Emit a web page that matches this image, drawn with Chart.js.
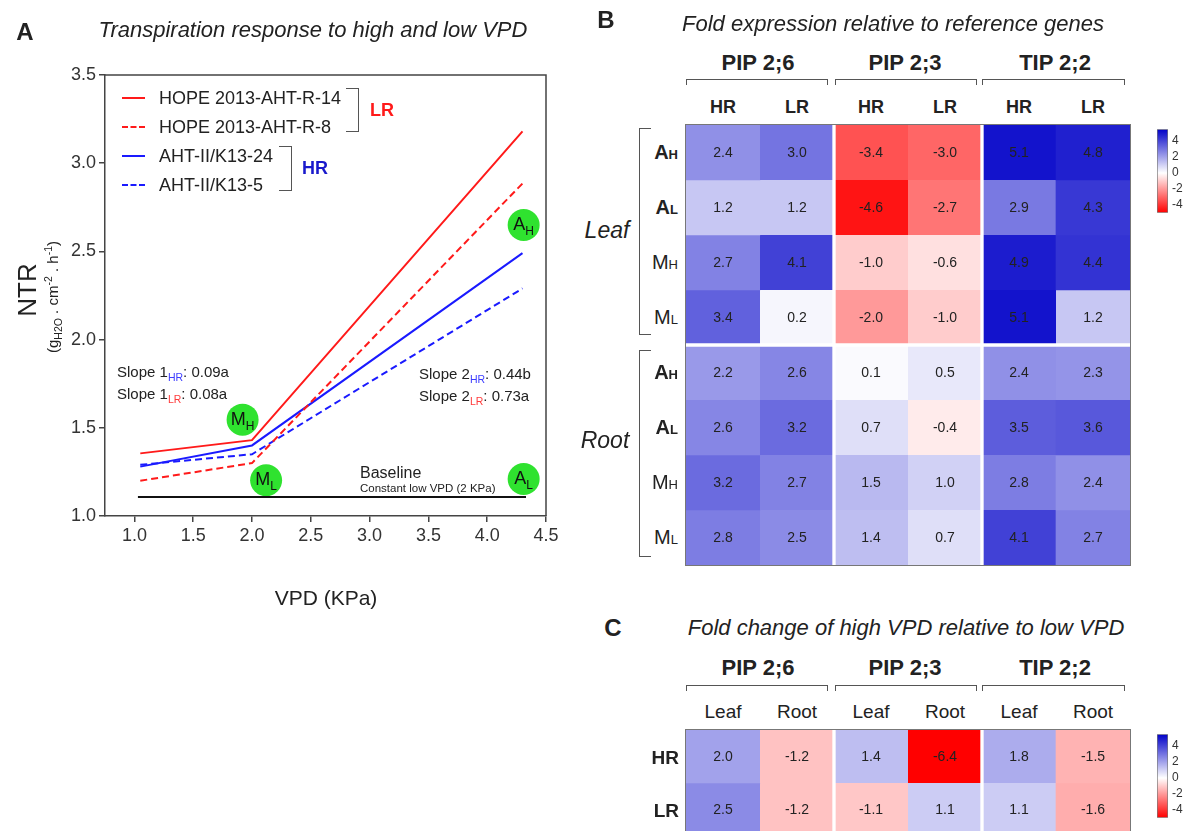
<!DOCTYPE html>
<html>
<head>
<meta charset="utf-8">
<script src="https://cdn.jsdelivr.net/npm/chart.js@4.4.0/dist/chart.umd.min.js"></script>
<style>
  html, body { margin:0; padding:0; background:#fff; overflow:hidden; }
  #fig { position:relative; width:1187px; height:831px; font-family:"Liberation Sans", Arial, sans-serif; color:#222; }
  .t, .l, .r { position:absolute; white-space:nowrap; line-height:1; }
  .t { transform:translate(-50%,-50%); }
  .l { transform:translate(0,-50%); }
  .r { transform:translate(-100%,-50%); }
  .b { font-weight:bold; }
  .i { font-style:italic; }
  canvas { position:absolute; }
  .brk { position:absolute; border:1.5px solid #555; box-sizing:border-box; }
  .sw { position:absolute; width:23px; height:0; }
  sub, sup { font-size:70%; }
</style>
</head>
<body>
<div id="fig">
  <canvas id="chartA" width="580" height="640" style="left:0;top:0"></canvas>
  <canvas id="heatB" width="444" height="440" style="left:686px;top:125px;outline:1px solid #777"></canvas>
  <canvas id="barB" width="37" height="106" style="left:1150px;top:118px"></canvas>
  <canvas id="heatC" width="444" height="106" style="left:686px;top:730px;outline:1px solid #777"></canvas>
  <canvas id="barC" width="37" height="106" style="left:1150px;top:723px"></canvas>

  <!-- panel A -->
  <div class="t b" style="left:25px;top:32px;font-size:24px">A</div>
  <div class="t i" style="left:313px;top:30px;font-size:22px">Transpiration response to high and low VPD</div>
  <div class="sw" style="left:122px;top:97px;border-top:2px solid #ff1a1a"></div>
  <div class="l" style="left:159px;top:98px;font-size:18px">HOPE 2013-AHT-R-14</div>
  <div class="sw" style="left:122px;top:126px;border-top:2px dashed #ff1a1a"></div>
  <div class="l" style="left:159px;top:127px;font-size:18px">HOPE 2013-AHT-R-8</div>
  <div class="sw" style="left:122px;top:155px;border-top:2px solid #1a1aff"></div>
  <div class="l" style="left:159px;top:156px;font-size:18px">AHT-II/K13-24</div>
  <div class="sw" style="left:122px;top:184px;border-top:2px dashed #1a1aff"></div>
  <div class="l" style="left:159px;top:185px;font-size:18px">AHT-II/K13-5</div>
  <div class="brk" style="left:346px;top:88px;width:13px;height:44px;border-left:none"></div>
  <div class="l b" style="left:370px;top:110px;font-size:18px;color:#ff1a1a">LR</div>
  <div class="brk" style="left:279px;top:146px;width:13px;height:45px;border-left:none"></div>
  <div class="l b" style="left:302px;top:168px;font-size:18px;color:#1a1acc">HR</div>
  <div class="l" style="left:117px;top:373px;font-size:15px">Slope 1<sub style="color:#3b3bff">HR</sub>: 0.09a</div>
  <div class="l" style="left:117px;top:395px;font-size:15px">Slope 1<sub style="color:#ff3b3b">LR</sub>: 0.08a</div>
  <div class="l" style="left:419px;top:375px;font-size:15px">Slope 2<sub style="color:#3b3bff">HR</sub>: 0.44b</div>
  <div class="l" style="left:419px;top:397px;font-size:15px">Slope 2<sub style="color:#ff3b3b">LR</sub>: 0.73a</div>
  <div class="l" style="left:360px;top:473px;font-size:16px">Baseline</div>
  <div class="l" style="left:360px;top:489px;font-size:11.5px">Constant low VPD (2 KPa)</div>
  <div class="t" style="left:27px;top:290px;font-size:26px;transform:translate(-50%,-50%) rotate(-90deg)">NTR</div>
  <div class="t" style="left:53px;top:297px;font-size:15px;transform:translate(-50%,-50%) rotate(-90deg)">(g<sub>H2O</sub> . cm<sup>-2</sup> . h<sup>-1</sup>)</div>
  <div class="t" style="left:326px;top:597px;font-size:21px">VPD (KPa)</div>

  <!-- panel B -->
  <div class="t b" style="left:606px;top:20px;font-size:24px">B</div>
  <div class="t i" style="left:893px;top:24px;font-size:22px">Fold expression relative to reference genes</div>
  <div class="t b" style="left:758px;top:63px;font-size:22px">PIP 2;6</div>
  <div class="t b" style="left:905px;top:63px;font-size:22px">PIP 2;3</div>
  <div class="t b" style="left:1055px;top:63px;font-size:22px">TIP 2;2</div>
  <div class="brk" style="left:686px;top:79px;width:142px;height:6px;border-bottom:none"></div>
  <div class="brk" style="left:835px;top:79px;width:142px;height:6px;border-bottom:none"></div>
  <div class="brk" style="left:982px;top:79px;width:143px;height:6px;border-bottom:none"></div>
  <div class="t b" style="left:723px;top:107px;font-size:18px">HR</div>
  <div class="t b" style="left:797px;top:107px;font-size:18px">LR</div>
  <div class="t b" style="left:871px;top:107px;font-size:18px">HR</div>
  <div class="t b" style="left:945px;top:107px;font-size:18px">LR</div>
  <div class="t b" style="left:1019px;top:107px;font-size:18px">HR</div>
  <div class="t b" style="left:1093px;top:107px;font-size:18px">LR</div>
  <div id="rowLabelsB"></div>
  <div class="t i" style="left:607px;top:230px;font-size:23px">Leaf</div>
  <div class="t i" style="left:605px;top:440px;font-size:23px">Root</div>
  <div class="brk" style="left:639px;top:128px;width:12px;height:207px;border-right:none"></div>
  <div class="brk" style="left:639px;top:350px;width:12px;height:207px;border-right:none"></div>

  <!-- panel C -->
  <div class="t b" style="left:613px;top:628px;font-size:24px">C</div>
  <div class="t i" style="left:906px;top:628px;font-size:22px">Fold change of high VPD relative to low VPD</div>
  <div class="t b" style="left:758px;top:668px;font-size:22px">PIP 2;6</div>
  <div class="t b" style="left:905px;top:668px;font-size:22px">PIP 2;3</div>
  <div class="t b" style="left:1055px;top:668px;font-size:22px">TIP 2;2</div>
  <div class="brk" style="left:686px;top:685px;width:142px;height:6px;border-bottom:none"></div>
  <div class="brk" style="left:835px;top:685px;width:142px;height:6px;border-bottom:none"></div>
  <div class="brk" style="left:982px;top:685px;width:143px;height:6px;border-bottom:none"></div>
  <div class="t" style="left:723px;top:711px;font-size:19px">Leaf</div>
  <div class="t" style="left:797px;top:711px;font-size:19px">Root</div>
  <div class="t" style="left:871px;top:711px;font-size:19px">Leaf</div>
  <div class="t" style="left:945px;top:711px;font-size:19px">Root</div>
  <div class="t" style="left:1019px;top:711px;font-size:19px">Leaf</div>
  <div class="t" style="left:1093px;top:711px;font-size:19px">Root</div>
  <div class="r b" style="left:679px;top:757px;font-size:19px">HR</div>
  <div class="r b" style="left:679px;top:810px;font-size:19px">LR</div>
</div>

<script>
// Panel A: NTR vs VPD
const vpd = [1.05, 2.0, 4.3];
const hopeR14 = [1.355, 1.43, 3.18];
const hopeR8 = [1.20, 1.30, 2.885];
const k13_24 = [1.28, 1.40, 2.49];
const k13_5 = [1.29, 1.35, 2.29];
const baselineX = [1.03, 4.33];
const baselineY = [1.108, 1.108];
const markerX = [4.31, 1.92, 2.12, 4.31];
const markerY = [2.65, 1.546, 1.203, 1.21];
const markerMain = ['A', 'M', 'M', 'A'];
const markerSub = ['H', 'H', 'L', 'L'];
const vpdTicks = [1.0, 1.5, 2.0, 2.5, 3.0, 3.5, 4.0, 4.5];

// Panel B: fold expression (rows: Leaf AH, AL, MH, ML, Root AH, AL, MH, ML)
const rowNamesB = [['A','H'], ['A','L'], ['M','H'], ['M','L'], ['A','H'], ['A','L'], ['M','H'], ['M','L']];
const colNamesB = ['PIP2;6 HR', 'PIP2;6 LR', 'PIP2;3 HR', 'PIP2;3 LR', 'TIP2;2 HR', 'TIP2;2 LR'];
const leafAH = [2.4, 3.0, -3.4, -3.0, 5.1, 4.8];
const leafAL = [1.2, 1.2, -4.6, -2.7, 2.9, 4.3];
const leafMH = [2.7, 4.1, -1.0, -0.6, 4.9, 4.4];
const leafML = [3.4, 0.2, -2.0, -1.0, 5.1, 1.2];
const rootAH = [2.2, 2.6, 0.1, 0.5, 2.4, 2.3];
const rootAL = [2.6, 3.2, 0.7, -0.4, 3.5, 3.6];
const rootMH = [3.2, 2.7, 1.5, 1.0, 2.8, 2.4];
const rootML = [2.8, 2.5, 1.4, 0.7, 4.1, 2.7];

// Panel C: fold change high vs low VPD
const colNamesC = ['PIP2;6 Leaf', 'PIP2;6 Root', 'PIP2;3 Leaf', 'PIP2;3 Root', 'TIP2;2 Leaf', 'TIP2;2 Root'];
const changeHR = [2.0, -1.2, 1.4, -6.4, 1.8, -1.5];
const changeLR = [2.5, -1.2, -1.1, 1.1, 1.1, -1.6];

const cbMin = -5, cbMax = 5.5;
const cbTicks = [4, 2, 0, -2, -4];

Chart.defaults.font.family = '"Liberation Sans", Arial, sans-serif';
Chart.defaults.color = '#333';

function heatColor(v) {
  if (v >= 0) {
    const t = Math.min(v / cbMax, 1);
    const c = Math.round(255 * (1 - t));
    return `rgb(${c},${c},${Math.round(255 - 55 * t)})`;
  }
  const t = Math.min(-v / -cbMin, 1);
  const c = Math.round(255 * (1 - t));
  return `rgb(255,${c},${c})`;
}

// row labels for B (letter + small letter)
const rowY = [152, 207, 262, 317, 372, 427, 482, 537];
document.getElementById('rowLabelsB').innerHTML = rowNamesB.map((n, i) =>
  `<div class="r${n[0] === 'A' ? ' b' : ''}" style="left:678px;top:${rowY[i]}px"><span style="font-size:20px">${n[0]}</span><span style="font-size:13px">${n[1]}</span></div>`
).join('');

// ---------- panel A ----------
function lineSet(ys, color, dash) {
  return {
    data: vpd.map((x, i) => ({ x, y: ys[i] })),
    borderColor: color, borderWidth: 2, borderDash: dash,
    pointRadius: 0, fill: false, tension: 0
  };
}

const frame = {
  id: 'frame',
  beforeDatasetsDraw(chart) {
    const { ctx, chartArea: a } = chart;
    ctx.save();
    ctx.strokeStyle = '#444';
    ctx.lineWidth = 1.5;
    ctx.beginPath();
    ctx.moveTo(a.left, a.top);
    ctx.lineTo(a.right, a.top);
    ctx.lineTo(a.right, a.bottom);
    ctx.stroke();
    ctx.restore();
  }
};

const markerText = {
  id: 'markerText',
  afterDatasetsDraw(chart) {
    const ctx = chart.ctx;
    const meta = chart.getDatasetMeta(5);
    ctx.save();
    ctx.fillStyle = '#111';
    ctx.textBaseline = 'alphabetic';
    meta.data.forEach((pt, i) => {
      ctx.font = '18px "Liberation Sans", Arial';
      const w1 = ctx.measureText(markerMain[i]).width;
      ctx.font = '12px "Liberation Sans", Arial';
      const w2 = ctx.measureText(markerSub[i]).width;
      const x0 = pt.x - (w1 + w2) / 2;
      ctx.font = '18px "Liberation Sans", Arial';
      ctx.fillText(markerMain[i], x0, pt.y + 5);
      ctx.font = '12px "Liberation Sans", Arial';
      ctx.fillText(markerSub[i], x0 + w1, pt.y + 10);
    });
    ctx.restore();
  }
};

const axisCommon = {
  grid: { drawOnChartArea: false, tickLength: 6, color: '#444', lineWidth: 1.5 },
  border: { color: '#444', width: 1.5 }
};

new Chart(document.getElementById('chartA'), {
  type: 'line',
  data: {
    datasets: [
      lineSet(hopeR14, '#ff1a1a', []),
      lineSet(hopeR8, '#ff1a1a', [7, 4]),
      lineSet(k13_24, '#1a1aff', []),
      lineSet(k13_5, '#1a1aff', [7, 4]),
      {
        data: baselineX.map((x, i) => ({ x, y: baselineY[i] })),
        borderColor: '#111', borderWidth: 2, pointRadius: 0
      },
      {
        data: markerX.map((x, i) => ({ x, y: markerY[i] })),
        showLine: false, pointRadius: 16, pointBackgroundColor: '#2fe22f',
        pointBorderWidth: 0, borderWidth: 0
      }
    ]
  },
  options: {
    responsive: false, animation: false,
    layout: { padding: { left: 65, right: 34, top: 75, bottom: 94 } },
    plugins: { legend: { display: false }, tooltip: { enabled: false } },
    scales: {
      x: {
        type: 'linear', min: 0.75, max: 4.5,
        afterBuildTicks: s => { s.ticks = vpdTicks.map(v => ({ value: v })); },
        afterFit: s => { s.height = 30; },
        ticks: { callback: v => v.toFixed(1), font: { size: 18 }, color: '#333', padding: 3, maxRotation: 0, autoSkip: false },
        ...axisCommon
      },
      y: {
        min: 1, max: 3.5,
        afterFit: s => { s.width = 40; },
        ticks: { stepSize: 0.5, callback: v => v.toFixed(1), font: { size: 18 }, color: '#333', padding: 3 },
        ...axisCommon
      }
    }
  },
  plugins: [frame, markerText]
});

// ---------- heatmaps ----------
const cellText = {
  id: 'cellText',
  afterDatasetsDraw(chart) {
    const ctx = chart.ctx;
    ctx.save();
    ctx.font = '14px "Liberation Sans", Arial';
    ctx.fillStyle = '#222';
    ctx.textAlign = 'center';
    ctx.textBaseline = 'middle';
    chart.data.datasets.forEach((ds, r) => {
      chart.getDatasetMeta(r).data.forEach((el, j) => {
        ctx.fillText(ds.values[j].toFixed(1), el.x, (el.y + el.base) / 2 + 1);
      });
    });
    ctx.restore();
  }
};

function heatmap(id, labels, rows, splitAfter) {
  return new Chart(document.getElementById(id), {
    type: 'bar',
    data: {
      labels,
      datasets: rows.map((vals, r) => ({
        values: vals,
        data: vals.map(() => [r, r + 1]),
        backgroundColor: vals.map(heatColor),
        borderColor: '#fff',
        borderSkipped: false,
        borderWidth: vals.map((v, j) => ({
          left: (j === 2 || j === 4) ? 2 : 0,
          right: (j === 1 || j === 3) ? 2 : 0,
          top: (splitAfter >= 0 && r === splitAfter + 1) ? 2 : 0,
          bottom: (splitAfter >= 0 && r === splitAfter) ? 2 : 0
        })),
        grouped: false, barPercentage: 1, categoryPercentage: 1
      }))
    },
    options: {
      responsive: false, animation: false,
      layout: { padding: 0 },
      plugins: { legend: { display: false }, tooltip: { enabled: false } },
      scales: {
        x: { display: false },
        y: { display: false, min: 0, max: rows.length, reverse: true }
      }
    },
    plugins: [cellText]
  });
}

heatmap('heatB', colNamesB, [leafAH, leafAL, leafMH, leafML, rootAH, rootAL, rootMH, rootML], 3);
heatmap('heatC', colNamesC, [changeHR, changeLR], -1);

// ---------- colour bars ----------
function colorbar(id) {
  return new Chart(document.getElementById(id), {
    type: 'bar',
    data: {
      labels: ['scale'],
      datasets: [{
        data: [[cbMin, cbMax]],
        backgroundColor: ctx => {
          const chart = ctx.chart;
          if (!chart.chartArea) return '#fff';
          const y = chart.scales.y;
          const g = chart.ctx.createLinearGradient(0, y.getPixelForValue(cbMax), 0, y.getPixelForValue(cbMin));
          for (let v = cbMax; v >= cbMin - 1e-9; v -= 0.5) {
            g.addColorStop((cbMax - v) / (cbMax - cbMin), heatColor(v));
          }
          return g;
        },
        borderColor: '#777', borderWidth: 1, borderSkipped: false,
        barPercentage: 1, categoryPercentage: 1
      }]
    },
    options: {
      responsive: false, animation: false,
      layout: { padding: { left: 7, right: 0, top: 7, bottom: 7 } },
      plugins: { legend: { display: false }, tooltip: { enabled: false } },
      scales: {
        x: { display: false },
        y: {
          position: 'right', min: cbMin, max: cbMax, z: 1,
          afterBuildTicks: s => { s.ticks = cbTicks.map(v => ({ value: v })); },
          afterFit: s => { s.width = 19; },
          ticks: { font: { size: 12 }, color: '#333', padding: 4 },
          grid: { drawTicks: false, drawOnChartArea: true, color: '#222', lineWidth: 1 },
          border: { display: false, dash: [4, 3] }
        }
      }
    }
  });
}
colorbar('barB');
colorbar('barC');
</script>
</body>
</html>
